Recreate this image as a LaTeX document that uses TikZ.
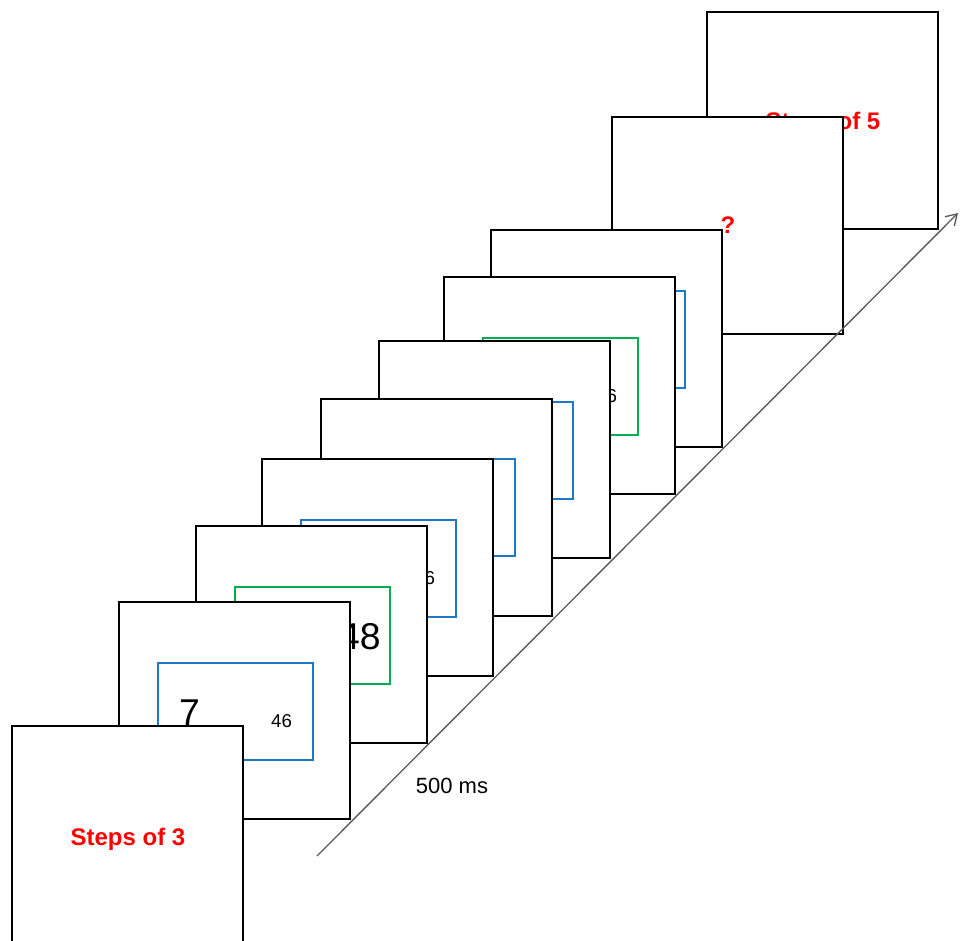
\documentclass[tikz,border=0pt]{standalone}
\usepackage{fontspec}
\setmainfont{Liberation Sans}
\usetikzlibrary{calc,arrows.meta}
\definecolor{stimblue}{RGB}{30,120,200}
\definecolor{stimgreen}{RGB}{0,176,80}
\definecolor{axisgray}{RGB}{90,90,90}
\begin{document}
\begin{tikzpicture}[x=0.75pt,y=-0.75pt,
  screen/.style={draw=black,fill=white,line width=1.5pt,inner sep=0pt,outer sep=0pt,minimum width=173.6pt,minimum height=163.1pt,anchor=north west},
  panel/.style={draw=#1,line width=1.5pt,inner sep=0pt,outer sep=0pt,minimum width=116.25pt,minimum height=72.75pt,anchor=north west},
  cue/.style={text=red,font=\bfseries\fontsize{18}{20}\selectfont,anchor=base,inner sep=0pt},
  bignum/.style={font=\fontsize{28}{30}\selectfont,anchor=base,inner sep=0pt},
  smallnum/.style={font=\fontsize{14}{16}\selectfont,anchor=base,inner sep=0pt},
  timelbl/.style={font=\fontsize{16.5}{18}\selectfont,anchor=base,inner sep=0pt},
]
\useasboundingbox (0,0) rectangle (964,940);
\clip (0,0) rectangle (964,940);

% back to front
\node[screen] (f1) at (707,12) {};
\node[cue] (t1) at ($(f1.north west)+(116,117)$) {Steps of 5};

\node[screen] (f2) at (612,117) {};
\node[cue] (t2) at ($(f2.north west)+(116,116)$) {?};

\node[screen] (f3) at (491,230) {};
\node[panel=stimblue] (p3) at ($(f3.north west)+(38.5,60.5)$) {};

\node[screen] (f4) at (444,277) {};
\node[panel=stimgreen] (p4) at ($(f4.north west)+(38.5,60.5)$) {};
\node[smallnum] (n4) at ($(f4.north west)+(162.5,125)$) {46};

\node[screen] (f5) at (379,341) {};
\node[panel=stimblue] (p5) at ($(f5.north west)+(38.5,60.5)$) {};

\node[screen] (f6) at (321,398.5) {};
\node[panel=stimblue] (p6) at ($(f6.north west)+(38.5,60.5)$) {};

\node[screen] (f7) at (262,459) {};
\node[panel=stimblue] (p7) at ($(f7.north west)+(38.5,60.5)$) {};
\node[smallnum] (n7) at ($(f7.north west)+(162.5,125)$) {46};

\node[screen] (f8) at (196,526) {};
\node[panel=stimgreen] (p8) at ($(f8.north west)+(38.5,60.5)$) {};
\node[bignum] (n8) at ($(f8.north west)+(164,123)$) {48};

\node[screen] (f9) at (119,602) {};
\node[panel=stimblue] (p9) at ($(f9.north west)+(38.5,60.5)$) {};
\node[bignum] (m9) at ($(f9.north west)+(70.5,123)$) {7};
\node[smallnum] (n9) at ($(f9.north west)+(162.5,125)$) {46};

\node[screen] (f10) at (12,726) {};
\node[cue] (t10) at ($(f10.north west)+(116,119)$) {Steps of 3};

% time axis
\coordinate (tstart) at (317,856);
\coordinate (tend) at (958,213);
\draw[axisgray,line width=1pt,-{Straight Barb[length=8pt,width=10pt]}] (tstart) -- (tend);
\node[timelbl] (ms) at (452,793) {500 ms};
\end{tikzpicture}
\end{document}
